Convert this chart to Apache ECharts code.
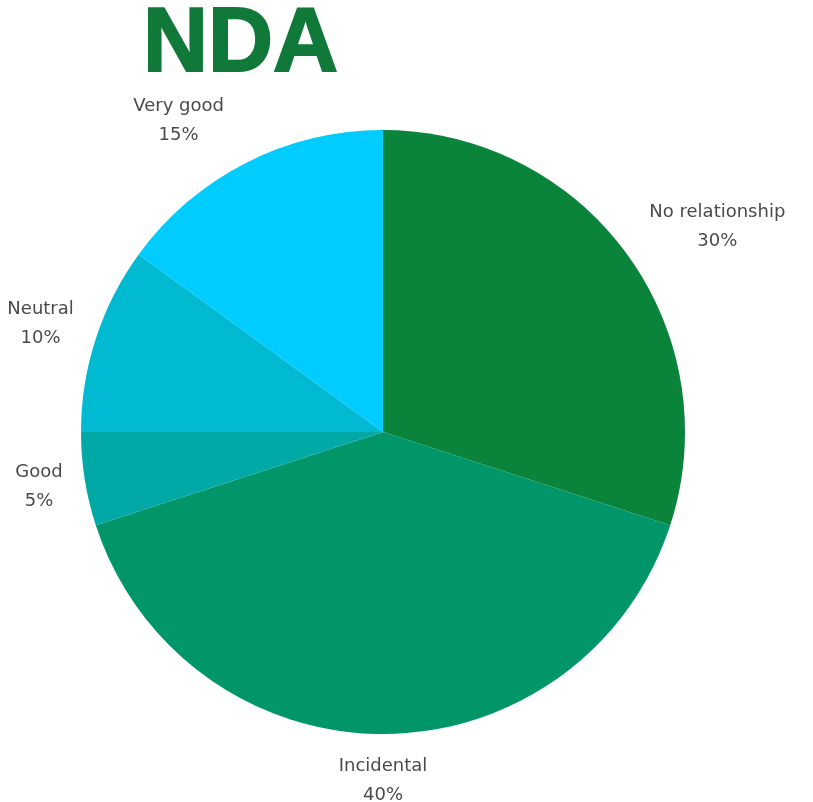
<!DOCTYPE html>
<html>
<head>
<meta charset="utf-8">
<script src="https://cdn.jsdelivr.net/npm/echarts@6/dist/echarts.min.js"></script>
<style>
	html, body { margin: 0; padding: 0; background: #fff; }
	#chart { width: 813px; height: 802px; }
</style>
</head>
<body>
<div id="chart"></div>
<script>
var categories = [ 'No relationship', 'Incidental', 'Good', 'Neutral', 'Very good' ];
var shares = [ 30, 40, 5, 10, 15 ];
var colors = [ '#0a843b', '#00966a', '#00a8a6', '#00bad2', '#00ccff' ];

function buildPieData(names, values) {
	var data = [];
	for (var i = 0; i < names.length; i++) {
		var entry = new Object();
		entry["name"] = names[i];
		entry["value"] = values[i];
		data.push(entry);
	}
	return data;
}

// centre each label just outside its slice
function placeLabel(params) {
	var pts = params.labelLinePoints;
	var r = params.labelRect;
	if (!pts) {
		return { align : 'center', verticalAlign : 'middle', x : r.x + r.width / 2, y : r.y + r.height / 2 };
	}
	var dx = pts[1][0] - pts[0][0];
	var dy = pts[1][1] - pts[0][1];
	var len = Math.sqrt(dx * dx + dy * dy) || 1;
	dx = dx / len;
	dy = dy / len;
	var side = Math.abs(dx) < 0.05 ? 0 : (dx > 0 ? 1 : -1);
	return {
		x : pts[0][0] + side * (r.width / 2 + 22),
		y : pts[0][1] + dy * (r.height / 2 + 18),
		align : 'center',
		verticalAlign : 'middle'
	};
}

var myChart = echarts.init(document.getElementById('chart'));
myChart.setOption({
	backgroundColor : '#ffffff',
	color : colors,
	title : {
		text : 'NDA',
		left : 138,
		top : -4,
		textStyle : {
			fontFamily : 'Liberation Sans',
			fontWeight : 'bold',
			fontSize : 90,
			color : '#10793a',
			textBorderColor : '#10793a',
			textBorderWidth : 2
		}
	},
	series : [ {
		type : 'pie',
		center : [ 383, 432 ],
		radius : 302,
		startAngle : 90,
		clockwise : true,
		avoidLabelOverlap : false,
		data : buildPieData(categories, shares),
		label : {
			show : true,
			position : 'outside',
			formatter : '{b}\n{d}%',
			fontFamily : 'DejaVu Sans',
			fontSize : 18,
			lineHeight : 29,
			color : '#4a4a4a'
		},
		labelLine : {
			show : true,
			length : 20,
			length2 : 0,
			lineStyle : {
				opacity : 0
			}
		},
		labelLayout : placeLabel,
		itemStyle : {
			borderWidth : 0
		},
		emphasis : {
			disabled : true
		}
	} ]
});
</script>
</body>
</html>
